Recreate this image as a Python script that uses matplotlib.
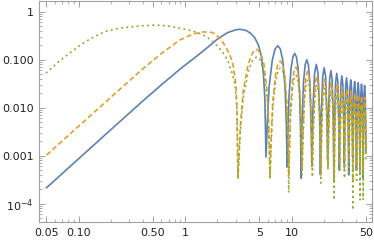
import matplotlib
matplotlib.use('Agg')
import matplotlib.pyplot as plt
from matplotlib.ticker import FixedLocator, FixedFormatter, LogLocator, NullFormatter

# values (log-log plot, x from 0.05 to 50)
x_blue = [0.05, 0.1, 0.2, 0.4, 0.6, 0.9, 1.2, 1.5, 2.0, 2.5, 3.0, 3.3, 3.7, 4.1, 4.5, 4.9, 5.2, 5.45, 5.62, 5.76,
          5.93, 6.16, 6.60, 7.01, 7.43, 7.85, 8.27, 8.70, 8.93, 9.10,
          9.26, 9.49, 9.91, 10.31, 10.71, 11.11, 11.52, 11.93, 12.16, 12.32,
          12.51, 12.96, 13.44, 13.92, 14.39, 14.87, 15.32, 15.51,
          15.83, 16.46, 17.10, 17.74, 18.37, 18.69,
          19.01, 19.64, 20.27, 20.90, 21.53, 21.85,
          22.17, 22.80, 23.43, 24.06, 24.69, 25.00,
          25.32, 25.95, 26.58, 27.21, 27.84, 28.15,
          28.46, 29.09, 29.72, 30.35, 30.98, 31.29,
          31.61, 32.24, 32.87, 33.50, 34.13, 34.44,
          34.75, 35.38, 36.01, 36.64, 37.27, 37.58,
          37.89, 38.52, 39.15, 39.78, 40.41, 40.72,
          41.03, 41.66, 42.29, 42.92, 43.55, 43.86,
          44.17, 44.80, 45.43, 46.06, 46.69, 47.00,
          47.31, 47.94, 48.57, 49.20, 49.70, 50.0]
y_blue = [2.15e-4, 8.6e-4, 3.45e-3, 0.0137, 0.030, 0.064, 0.105, 0.155, 0.265, 0.365, 0.42, 0.43, 0.41, 0.36, 0.29, 0.20, 0.12, 0.05, 0.015, 9.4e-4,
          0.0048, 0.027, 0.098, 0.167, 0.196, 0.167, 0.098, 0.027, 0.0048, 5.8e-4,
          0.0033, 0.0185, 0.0675, 0.115, 0.135, 0.115, 0.0675, 0.0185, 0.0033, 3.4e-4,
          0.0035, 0.0345, 0.079, 0.100, 0.079, 0.0345, 0.0035, 6e-4,
          0.0076, 0.052, 0.080, 0.052, 0.0076, 4e-4,
          0.0065, 0.045, 0.068, 0.045, 0.0065, 8e-4,
          0.0056, 0.039, 0.059, 0.039, 0.0056, 3e-4,
          0.0049, 0.034, 0.052, 0.034, 0.0049, 5e-4,
          0.0044, 0.030, 0.046, 0.030, 0.0044, 7e-4,
          0.0040, 0.0275, 0.042, 0.0275, 0.0040, 4e-4,
          0.0036, 0.025, 0.038, 0.025, 0.0036, 9e-4,
          0.0033, 0.023, 0.035, 0.023, 0.0033, 5e-4,
          0.0031, 0.0216, 0.033, 0.0216, 0.0031, 6e-4,
          0.0029, 0.020, 0.031, 0.020, 0.0029, 3.5e-4,
          0.0028, 0.019, 0.029, 0.019, 0.0055, 0.0012]

# orange and green share the same x samples once they start to oscillate
x_orange = [0.05, 0.1, 0.2, 0.4, 0.6, 0.9, 1.2, 1.5, 1.8, 2.1, 2.4, 2.7, 2.85, 3.0, 3.08, 3.14,
            3.30, 3.52, 3.93, 4.32, 4.71, 5.10, 5.50, 5.90, 6.13, 6.28,
            6.44, 6.66, 7.07, 7.46, 7.85, 8.25, 8.64, 9.05, 9.26, 9.42,
            9.58, 9.80, 10.21, 10.60, 11.00, 11.39, 11.78, 12.19, 12.41, 12.57,
            12.76, 13.20, 13.67, 14.14, 14.61, 15.08, 15.52, 15.71,
            16.02, 16.65, 17.28, 17.91, 18.53, 18.85,
            19.16, 19.79, 20.42, 21.05, 21.68, 21.99,
            22.31, 22.93, 23.56, 24.19, 24.82, 25.13,
            25.45, 26.08, 26.70, 27.33, 27.96, 28.27,
            28.59, 29.22, 29.85, 30.47, 31.10, 31.42,
            31.73, 32.36, 32.99, 33.62, 34.25, 34.56,
            34.87, 35.50, 36.13, 36.76, 37.39, 37.70,
            38.01, 38.64, 39.27, 39.90, 40.53, 40.84,
            41.15, 41.78, 42.41, 43.04, 43.67, 43.98,
            44.29, 44.92, 45.55, 46.18, 46.81, 47.12,
            47.43, 48.06, 48.69, 49.32, 49.70, 50.0]
y_orange = [1.03e-3, 4.1e-3, 0.0163, 0.064, 0.135, 0.26, 0.345, 0.38, 0.37, 0.29, 0.19, 0.11, 0.07, 0.03, 0.008, 3.4e-4,
            0.004, 0.0226, 0.0825, 0.141, 0.165, 0.141, 0.0825, 0.0226, 0.004, 3.5e-4,
            0.0023, 0.0129, 0.047, 0.080, 0.094, 0.080, 0.047, 0.0129, 0.0023, 4e-4,
            0.0017, 0.0096, 0.035, 0.060, 0.070, 0.060, 0.035, 0.0096, 0.0017, 5e-4,
            0.002, 0.0197, 0.045, 0.057, 0.045, 0.0197, 0.002, 6e-4,
            0.0044, 0.030, 0.046, 0.030, 0.0044, 4e-4,
            0.0037, 0.0255, 0.039, 0.0255, 0.0037, 6e-4,
            0.0032, 0.0223, 0.034, 0.0223, 0.0032, 3e-4,
            0.0029, 0.0197, 0.030, 0.0197, 0.0029, 7e-4,
            0.0026, 0.0177, 0.027, 0.0177, 0.0026, 5e-4,
            0.0023, 0.0157, 0.024, 0.0157, 0.0023, 8e-4,
            0.0021, 0.0144, 0.022, 0.0144, 0.0021, 3e-4,
            0.0019, 0.0131, 0.020, 0.0131, 0.0019, 6e-4,
            0.0018, 0.0124, 0.019, 0.0124, 0.0018, 4e-4,
            0.0017, 0.0115, 0.0176, 0.0115, 0.0017, 5e-4,
            0.0016, 0.0107, 0.0164, 0.0107, 0.0045, 0.0011]

x_green = [0.05, 0.065, 0.086, 0.11, 0.14, 0.18, 0.24, 0.3, 0.4, 0.5, 0.6, 0.75, 0.9, 1.1, 1.3, 1.6, 1.9, 2.2, 2.5, 2.75, 2.95, 3.06, 3.14] + x_orange[16:]
y_green = [0.0536, 0.091, 0.147, 0.22, 0.30, 0.39, 0.45, 0.48, 0.51, 0.525, 0.52, 0.49, 0.45, 0.41, 0.37, 0.30, 0.22, 0.155, 0.10, 0.055, 0.03, 0.012, 3.4e-4,
           0.0028, 0.0158, 0.0575, 0.098, 0.115, 0.098, 0.0575, 0.0158, 0.0028, 3.4e-4,
           0.0017, 0.0093, 0.034, 0.058, 0.068, 0.058, 0.034, 0.0093, 0.0017, 1.7e-4,
           0.0012, 0.0066, 0.024, 0.041, 0.048, 0.041, 0.024, 0.0066, 0.0012, 4e-4,
           0.0013, 0.0128, 0.0294, 0.037, 0.0294, 0.0128, 0.0013, 3.6e-4,
           0.0029, 0.0197, 0.030, 0.0197, 0.0029, 2.7e-4,
           0.0024, 0.0164, 0.025, 0.0164, 0.0024, 5e-4,
           0.0021, 0.0144, 0.022, 0.0144, 0.0021, 1.2e-4,
           0.0018, 0.0124, 0.019, 0.0124, 0.0018, 4.6e-4,
           0.0016, 0.0111, 0.017, 0.0111, 0.0016, 3.4e-4,
           0.0015, 0.0105, 0.016, 0.0105, 0.0015, 4.6e-4,
           0.0013, 0.0092, 0.014, 0.0092, 0.0013, 7.4e-5,
           0.0012, 0.0085, 0.013, 0.0085, 0.0012, 3.1e-4,
           0.0011, 0.0079, 0.012, 0.0079, 0.0011, 1.2e-4,
           0.0011, 0.0075, 0.0114, 0.0075, 0.0011, 1.2e-4,
           0.001, 0.007, 0.0107, 0.007, 0.003, 7e-4]

x_ticks = [0.05, 0.1, 0.5, 1, 5, 10, 50]
x_labels = ['0.05', '0.10', '0.50', '1', '5', '10', '50']
y_ticks = [1e-4, 1e-3, 1e-2, 1e-1, 1]
y_labels = ['$10^{-4}$', '0.001', '0.010', '0.100', '1']

plt.rcParams['font.family'] = ['DejaVu Sans']
plt.rcParams['mathtext.default'] = 'regular'

fig = plt.figure(figsize=(3.74, 2.41), dpi=100)
ax = fig.add_axes([39.3 / 374, 19 / 241, 332.7 / 374, 221.5 / 241])
ax.set_xscale('log')
ax.set_yscale('log')

ax.plot(x_blue, y_blue, color='#5E81B5', lw=1.2)
ax.plot(x_orange, y_orange, color='#E19C24', lw=1.15, linestyle=(0, (3.2, 1.8)))
ax.plot(x_green, y_green, color='#8FB032', lw=1.3, linestyle=(0, (0.3, 2.6)),
        dash_capstyle='round')

ax.set_xlim(0.0428, 57.0)
ax.set_ylim(4.16e-5, 1.71)

ax.xaxis.set_major_locator(FixedLocator(x_ticks))
ax.xaxis.set_major_formatter(FixedFormatter(x_labels))
ax.xaxis.set_minor_locator(LogLocator(base=10, subs=range(2, 10)))
ax.xaxis.set_minor_formatter(NullFormatter())
ax.yaxis.set_major_locator(FixedLocator(y_ticks))
ax.yaxis.set_major_formatter(FixedFormatter(y_labels))
ax.yaxis.set_minor_locator(LogLocator(base=10, subs=range(2, 10)))
ax.yaxis.set_minor_formatter(NullFormatter())

ax.tick_params(which='both', direction='in', top=True, right=True,
               color='#a0a0a0', labelcolor='#222222', labelsize=8)
ax.tick_params(which='major', length=4, width=0.7)
ax.tick_params(which='minor', length=2.3, width=0.6)
ax.tick_params(axis='x', pad=4.5)
ax.tick_params(axis='y', pad=4)
for s in ax.spines.values():
    s.set_color('#a0a0a0')
    s.set_linewidth(0.8)

fig.savefig('out.png', dpi=100)
